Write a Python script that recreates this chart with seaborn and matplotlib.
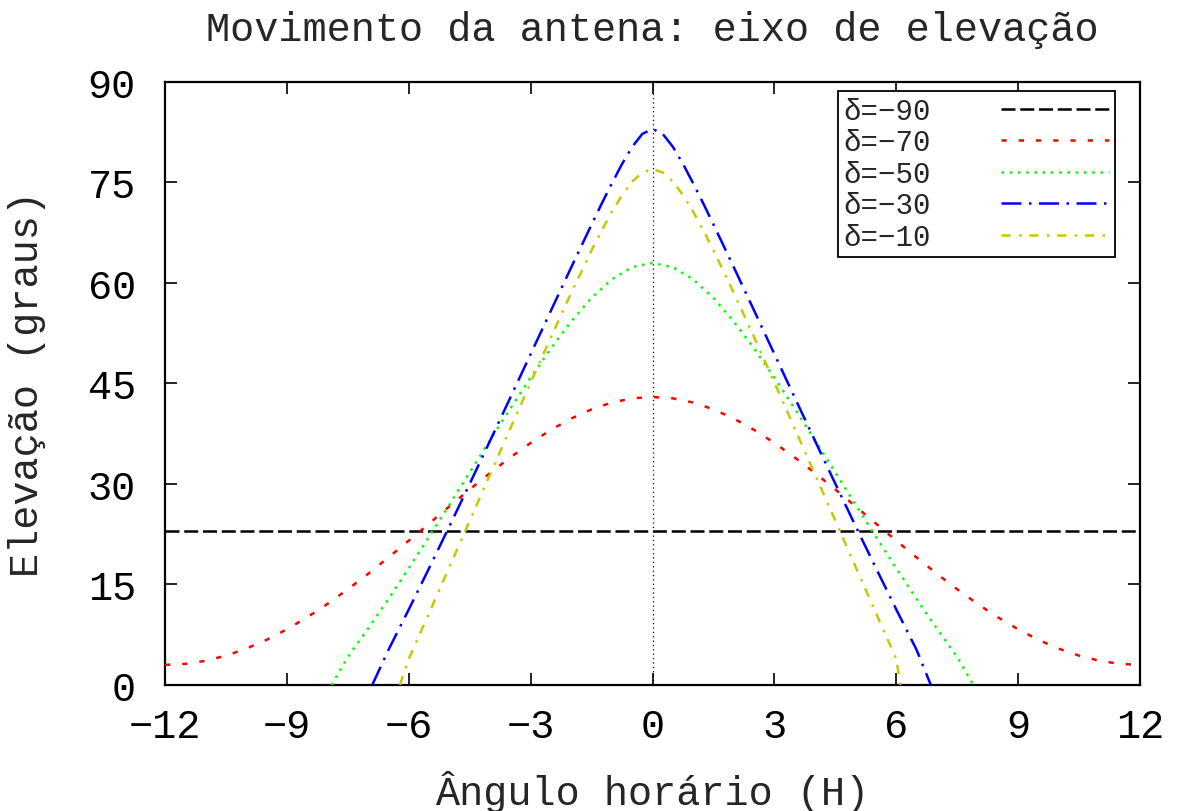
import matplotlib
matplotlib.use("Agg")
import matplotlib.pyplot as plt
import seaborn as sns
import pandas as pd

# Hour angle (hours) and elevation (degrees) for each declination
hour_angle = [-12, -11.5, -11, -10.5, -10, -9.5, -9, -8.5, -8, -7.5, -7, -6.5, -6,
              -5.5, -5, -4.5, -4, -3.5, -3, -2.5, -2, -1.5, -1, -0.5, 0,
              0.5, 1, 1.5, 2, 2.5, 3, 3.5, 4, 4.5, 5, 5.5, 6,
              6.5, 7, 7.5, 8, 8.5, 9, 9.5, 10, 10.5, 11, 11.5, 12]

elev_m90 = [23.0] * len(hour_angle)

elev_m70 = [3.00, 3.15, 3.61, 4.38, 5.42, 6.74, 8.31, 10.11, 12.10, 14.28, 16.59, 19.03, 21.54,
            24.09, 26.65, 29.18, 31.64, 33.96, 36.13, 38.08, 39.77, 41.14, 42.16, 42.78, 42.99,
            42.78, 42.16, 41.14, 39.77, 38.08, 36.13, 33.96, 31.64, 29.18, 26.65, 24.09, 21.54,
            19.03, 16.59, 14.28, 12.10, 10.11, 8.31, 6.74, 5.42, 4.38, 3.61, 3.15, 3.00]

ha_m50 = [-7.9, -7.5, -7, -6.5, -6, -5.5, -5, -4.5, -4, -3.5, -3, -2.5, -2, -1.5, -1, -0.5, 0,
          0.5, 1, 1.5, 2, 2.5, 3, 3.5, 4, 4.5, 5, 5.5, 6, 6.5, 7, 7.5, 7.9]
elev_m50 = [0.0, 4.18, 8.41, 12.83, 17.42, 22.12, 26.90, 31.72, 36.53, 41.26, 45.87, 50.24,
            54.26, 57.78, 60.55, 62.36, 62.99,
            62.36, 60.55, 57.78, 54.26, 50.24, 45.87, 41.26, 36.53, 31.72, 26.90, 22.12, 17.42,
            12.83, 8.41, 4.18, 0.0]

ha_m30 = [-6.9, -6.5, -6, -5.5, -5, -4.5, -4, -3.5, -3, -2.5, -2, -1.5, -1.25, -1, -0.75,
          -0.5, -0.25, 0, 0.25, 0.5, 0.75, 1, 1.25, 1.5, 2, 2.5, 3, 3.5, 4, 4.5, 5, 5.5,
          6, 6.5, 6.85]
elev_m30 = [0.0, 5.24, 11.27, 17.43, 23.69, 30.03, 36.44, 42.90, 49.39, 55.89, 62.35, 68.73,
            71.86, 74.88, 77.77, 80.33, 82.26, 83.00, 82.26, 80.33, 77.77, 74.88, 71.86,
            68.73, 62.35, 55.89, 49.39, 42.90, 36.44, 30.03, 23.69, 17.43, 11.27, 5.24, 0.0]

ha_m10 = [-6.22, -6, -5.5, -5, -4.5, -4, -3.5, -3, -2.5, -2, -1.5, -1.25, -1, -0.75, -0.5,
          -0.25, 0, 0.25, 0.5, 0.75, 1, 1.25, 1.5, 2, 2.5, 3, 3.5, 4, 4.5, 5, 5.5, 6, 6.1]
elev_m10 = [0.0, 3.89, 10.73, 17.61, 24.51, 31.41, 38.29, 45.14, 51.91, 58.54, 64.88, 67.85,
            70.65, 73.12, 75.15, 76.51, 77.00, 76.51, 75.15, 73.12, 70.65, 67.85, 64.88,
            58.54, 51.91, 45.14, 38.29, 31.41, 24.51, 17.61, 10.73, 3.89, 0.0]

labels = ["δ=−90", "δ=−70", "δ=−50", "δ=−30", "δ=−10"]
x_ticks = [-12, -9, -6, -3, 0, 3, 6, 9, 12]
y_ticks = [0, 15, 30, 45, 60, 75, 90]

series = [
    (hour_angle, elev_m90, "#000000", (0, (5.6, 1.9))),
    (hour_angle, elev_m70, "#ff0000", (0, (2.1, 4.8))),
    (ha_m50, elev_m50, "#00ff00", (0, (1.0, 2.3))),
    (ha_m30, elev_m30, "#0000ff", (0, (8, 3, 1, 3))),
    (ha_m10, elev_m10, "#c8c800", (0, (3.7, 3.4, 1, 3.0))),
]

sns.set_style("ticks")
plt.rcParams["font.family"] = ["Liberation Mono", "DejaVu Sans Mono"]
plt.rcParams["axes.unicode_minus"] = True

fig = plt.figure(figsize=(11.83, 8.12), dpi=100)
ax = fig.add_axes([0.1395, 0.1552, 0.9637 - 0.1395, 0.8978 - 0.1552])

# thin dotted reference line at H = 0
ax.axvline(0, color="black", lw=0.9, linestyle=(0, (1, 2.5)), zorder=1)

for (xs, ys, col, ls), lab in zip(series, labels):
    df = pd.DataFrame({"H": xs, "elev": ys})
    sns.lineplot(data=df, x="H", y="elev", ax=ax, color=col, linestyle=ls,
                 lw=1.8, sort=False, label=lab, zorder=3)

ax.set_xlim(-12, 12)
ax.set_ylim(0, 90)
ax.set_xticks(x_ticks)
ax.set_yticks(y_ticks)
ax.tick_params(axis="both", which="both", direction="in", length=8.5, width=1.2,
               top=True, right=True, labelsize=29, colors="black")
ax.tick_params(axis="y", pad=21)
ax.tick_params(axis="x", pad=16)
for sp in ax.spines.values():
    sp.set_linewidth(1.6)
    sp.set_color("black")
    sp.set_visible(True)

ax.set_title("Movimento da antena: eixo de elevação", fontsize=29, pad=30)
ax.set_xlabel("Ângulo horário (H)", fontsize=29, labelpad=18)
ax.set_ylabel("Elevação (graus)", fontsize=29, labelpad=30)

leg = ax.legend(loc="upper right", bbox_to_anchor=(0.974, 0.985), borderaxespad=0,
                markerfirst=False, fontsize=21, handlelength=3.7, handletextpad=2.4,
                borderpad=0.2, labelspacing=0.12, fancybox=False, framealpha=1,
                edgecolor="black")
leg.get_frame().set_linewidth(1.3)

fig.savefig("out.png", dpi=100)
